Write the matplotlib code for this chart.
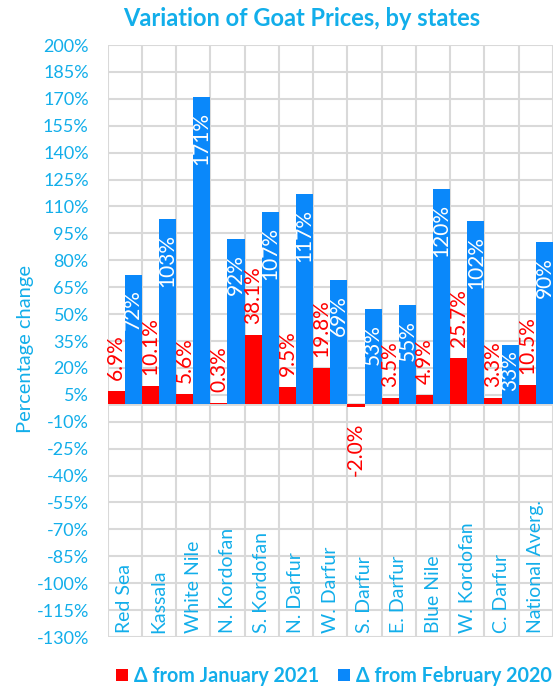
import matplotlib
matplotlib.use("Agg")
import matplotlib.pyplot as plt
from matplotlib.lines import Line2D
import numpy as np

plt.rcParams['font.family'] = ['Lato', 'DejaVu Sans']

categories = ["Red Sea", "Kassala", "White Nile", "N. Kordofan", "S. Kordofan",
              "N. Darfur", "W. Darfur", "S. Darfur", "E. Darfur", "Blue Nile",
              "W. Kordofan", "C. Darfur", "National Averg."]
from_jan_2021 = [6.9, 10.1, 5.6, 0.3, 38.1, 9.5, 19.8, -2.0, 3.5, 4.9, 25.7, 3.3, 10.5]
from_feb_2020 = [72, 103, 171, 92, 107, 117, 69, 53, 55, 120, 102, 33, 90]
series_names = ["\u0394 from January 2021", "\u0394 from February 2020"]
y_ticks = list(range(-130, 201, 15))

RED = "#FF0000"
BLUE = "#0A88FA"
TXT = "#12AEEA"
GRID = "#D9D9D9"

fig = plt.figure(figsize=(5.53, 6.92), dpi=100)
ax = fig.add_axes([107.5 / 553, 1 - 637 / 692, 1 - 107.5 / 553, (637 - 45) / 692])

x = np.arange(len(categories))
w = 0.5
ax.bar(x - w / 2, from_jan_2021, width=w, color=RED, zorder=3, linewidth=0)
ax.bar(x + w / 2, from_feb_2020, width=w, color=BLUE, zorder=3, linewidth=0)

ax.set_xlim(-0.5, len(categories) - 0.5)
ax.set_ylim(-130, 200)
ax.set_yticks(y_ticks)
ax.set_yticklabels([f"{v}%" for v in y_ticks])
ax.set_xticks(np.arange(-0.5, len(categories), 1.0))
ax.set_xticklabels([])
ax.tick_params(axis='both', length=0)
ax.tick_params(axis='y', colors=TXT, labelsize=13, pad=13.5)
ax.grid(True, color=GRID, linewidth=1.5, zorder=0)
ax.axhline(0, color=GRID, linewidth=2.0, zorder=2)
for s in ax.spines.values():
    s.set_visible(False)

ax.set_ylabel("Percentage change", color=TXT, fontsize=14.5, va='center')
ax.yaxis.set_label_coords(-0.183, 0.486)

# category labels inside plot at bottom
for i, c in enumerate(categories):
    ax.annotate(c, xy=(i, -130), xytext=(0, 4), textcoords='offset pixels',
                rotation=90, ha='center', va='bottom', color=TXT, fontsize=14,
                zorder=4)

# red data labels (outside end)
for i, v in enumerate(from_jan_2021):
    if v >= 0:
        ax.annotate(f"{v:.1f}%", xy=(i - w / 2, v), xytext=(0, 11),
                    textcoords='offset pixels', rotation=90, ha='center',
                    va='bottom', color=RED, fontsize=15, zorder=4)
    else:
        ax.annotate(f"{v:.1f}%", xy=(i - w / 2, v), xytext=(0, -15),
                    textcoords='offset pixels', rotation=90, ha='center',
                    va='top', color=RED, fontsize=15, zorder=4)

# blue data labels (inside end)
for i, v in enumerate(from_feb_2020):
    off = -15 if v >= 40 else -6
    ax.annotate(f"{v:.0f}%", xy=(i + w / 2, v), xytext=(0, off),
                textcoords='offset pixels', rotation=90, ha='center',
                va='top', color='white', fontsize=15, zorder=4)

fig.text(302 / 553, 1 - 18 / 692, "Variation of Goat Prices, by states",
         ha='center', va='center', color=TXT, fontsize=17, fontweight='bold')

handles = [Line2D([], [], marker='s', linestyle='none', markersize=9,
                  markerfacecolor=RED, markeredgewidth=0),
           Line2D([], [], marker='s', linestyle='none', markersize=9,
                  markerfacecolor=BLUE, markeredgewidth=0)]
leg = fig.legend(handles, series_names, loc='center', ncol=2,
                 bbox_to_anchor=(334 / 553, 1 - 676 / 692), frameon=False,
                 prop={'weight': 'bold', 'size': 14.2}, handlelength=0.6,
                 handletextpad=0.3, columnspacing=1.0, borderpad=0)
for t in leg.get_texts():
    t.set_color(TXT)

fig.savefig("out.png", dpi=100)
